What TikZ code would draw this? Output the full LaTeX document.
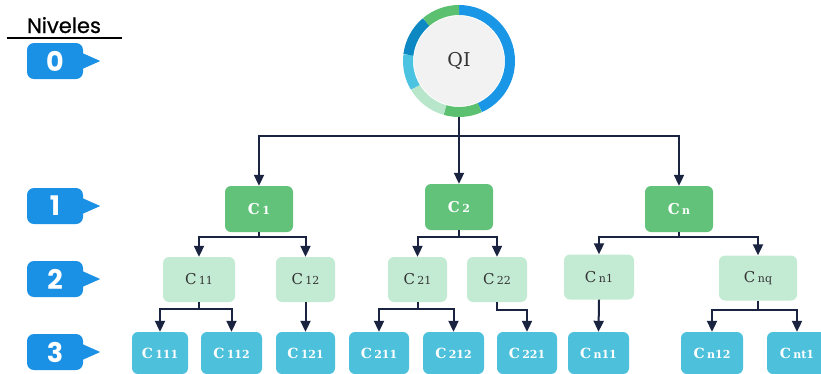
\documentclass[tikz,border=0pt]{standalone}
\usepackage{fontspec}
\usetikzlibrary{arrows.meta}
\newfontfamily\popfont{Poppins}
\newfontfamily\popmed{Poppins}[FakeBold=0.7]
\newfontfamily\slabfont{DejaVu Serif}
\definecolor{badgeblue}{HTML}{1B91E5}
\definecolor{navy}{HTML}{1A2340}
\definecolor{lvlone}{HTML}{62C27A}
\definecolor{lvltwo}{HTML}{C3EBD3}
\definecolor{lvlthree}{HTML}{4DC0DC}
\definecolor{ringblue}{HTML}{1A96E6}
\definecolor{ringdark}{HTML}{0E88C2}
\definecolor{ringcyan}{HTML}{4CC3E0}
\definecolor{ringlight}{HTML}{B8E6CB}
\definecolor{ringgreen}{HTML}{5CC071}
\definecolor{innergray}{HTML}{F2F2F2}
\definecolor{textdark}{HTML}{333333}
\newcommand\clab[2]{#1\,{\fontsize{11}{11}\selectfont #2}}
\begin{document}
\begin{tikzpicture}[x=1pt,y=-1pt,
  badge/.style={fill=badgeblue,rounded corners=7pt,minimum width=56pt,minimum height=36pt,inner sep=0pt,text=white,font=\popfont\bfseries\fontsize{27}{27}\selectfont},
  boxone/.style={fill=lvlone,rounded corners=6pt,minimum width=68pt,minimum height=46pt,inner sep=0pt,text=white,font=\slabfont\bfseries\fontsize{15}{15}\selectfont},
  boxtwo/.style={fill=lvltwo,rounded corners=6pt,minimum height=45pt,inner sep=0pt,text=textdark,font=\slabfont\fontsize{15}{15}\selectfont},
  boxthree/.style={fill=lvlthree,rounded corners=6pt,minimum height=42pt,inner sep=0pt,text=white,font=\slabfont\bfseries\fontsize{14}{14}\selectfont},
  arr/.style={draw=navy,line width=2pt,-{Triangle[width=10pt,length=11pt]}},
  ring/.style={line width=10pt}
]
\useasboundingbox (0,0) rectangle (821,373);
% title
\node[font=\popmed\fontsize{21}{21}\selectfont,anchor=base] (title) at (64,33) {Niveles};
\draw[line width=1.6pt] (7,38) -- (122,38);
% badges
\foreach \n/\y in {0/61,1/206,2/279,3/352}{
  \node[badge] (bd\n) at (55,\y) {\n};
  \fill[badgeblue] ([xshift=-1pt,yshift=8pt]bd\n.east) -- ([xshift=17pt]bd\n.east) -- ([xshift=-1pt,yshift=-8pt]bd\n.east) -- cycle;
}
% QI circle
\node[circle,minimum size=112pt,inner sep=0pt] (qi) at (459,61) {};
\fill[innergray] (qi.center) circle[radius=45pt];
\draw[ring,ringblue]  ([shift={(90:51pt)}]qi.center) arc[start angle=90,end angle=-66,radius=51pt];
\draw[ring,ringgreen] ([shift={(-66:51pt)}]qi.center) arc[start angle=-66,end angle=-106,radius=51pt];
\draw[ring,ringlight] ([shift={(-106:51pt)}]qi.center) arc[start angle=-106,end angle=-149,radius=51pt];
\draw[ring,ringcyan]  ([shift={(-149:51pt)}]qi.center) arc[start angle=-149,end angle=-187,radius=51pt];
\draw[ring,ringdark]  ([shift={(-187:51pt)}]qi.center) arc[start angle=-187,end angle=-230,radius=51pt];
\draw[ring,ringgreen] ([shift={(-230:51pt)}]qi.center) arc[start angle=-230,end angle=-270,radius=51pt];
\node[font=\slabfont\fontsize{19}{19}\selectfont,text=textdark] (qilabel) at (qi.center) {QI};
% level 1
\node[boxone] (c1) at (259,209) {\clab{C}{1}};
\node[boxone] (c2) at (459,207) {\clab{C}{2}};
\node[boxone] (cn) at (679,209) {\clab{C}{n}};
% level 2
\node[boxtwo,minimum width=72pt] (c11) at (199,279.5) {\clab{C}{11}};
\node[boxtwo,minimum width=59pt] (c12) at (305.5,279.5) {\clab{C}{12}};
\node[boxtwo,minimum width=59pt] (c21) at (417.5,279.5) {\clab{C}{21}};
\node[boxtwo,minimum width=60pt] (c22) at (497,279.5) {\clab{C}{22}};
\node[boxtwo,minimum width=70pt] (cn1) at (599,277) {\clab{C}{n1}};
\node[boxtwo,minimum width=78pt] (cnq) at (758,278) {\clab{C}{nq}};
% level 3
\node[boxthree,minimum width=56pt] (c111) at (160,353) {\clab{C}{111}};
\node[boxthree,minimum width=61pt] (c112) at (231.5,353) {\clab{C}{112}};
\node[boxthree,minimum width=59pt] (c121) at (305.5,353) {\clab{C}{121}};
\node[boxthree,minimum width=60pt] (c211) at (379,353) {\clab{C}{211}};
\node[boxthree,minimum width=61pt] (c212) at (453.5,353) {\clab{C}{212}};
\node[boxthree,minimum width=60pt] (c221) at (527,353) {\clab{C}{221}};
\node[boxthree,minimum width=61pt] (cn11) at (598.5,353) {\clab{C}{n11}};
\node[boxthree,minimum width=62pt] (cn12) at (712,353) {\clab{C}{n12}};
\node[boxthree,minimum width=60pt] (cnt1) at (797,353) {\clab{C}{nt1}};
% connectors level 0 -> 1
\coordinate (bus0) at (459,136);
\draw[arr] (qi.south) -- (bus0) -| (c1.north);
\draw[arr] (bus0) -| (cn.north);
\draw[arr] (qi.south) -- (c2.north);
% level 1 -> 2
\draw[arr] (c1.south) -- ++(0,5) -| (c11.north);
\draw[arr] (c1.south) -- ++(0,5) -| (c12.north);
\draw[arr] (c2.south) -- ++(0,7) -| (c21.north);
\draw[arr] (c2.south) -- ++(0,7) -| (c22.north);
\draw[arr] (cn.south) -- ++(0,5) -| (cn1.north);
\draw[arr] (cn.south) -- ++(0,5) -| (cnq.north);
% level 2 -> 3
\draw[arr] (c11.south) -- ++(0,7) -| (c111.north);
\draw[arr] (c11.south) -- ++(0,7) -| (c112.north);
\draw[arr] (c12.south) -- (c121.north);
\draw[arr] (c21.south) -- ++(0,7) -| (c211.north);
\draw[arr] (c21.south) -- ++(0,7) -| (c212.north);
\draw[arr] (c22.south) -- ++(0,8) -| (c221.north);
\draw[arr] (cn1.south) -- (cn11.north);
\draw[arr] (cnq.south) -- ++(0,9) -| (cn12.north);
\draw[arr] (cnq.south) -- ++(0,9) -| (cnt1.north);
\end{tikzpicture}
\end{document}
